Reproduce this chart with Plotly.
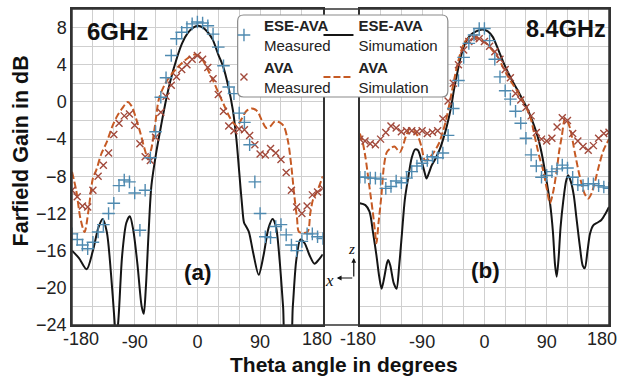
import plotly.graph_objects as go

# ---------------- data ----------------
THETA_MEAS = [-180, -172.5, -165, -157.5, -150, -142.5, -135, -127.5, -120, -112.5,
              -105, -97.5, -90, -82.5, -75, -67.5, -60, -52.5, -45, -37.5,
              -30, -22.5, -15, -7.5, 0, 7.5, 15, 22.5, 30, 37.5,
              45, 52.5, 60, 67.5, 75, 82.5, 90, 97.5, 105, 112.5,
              120, 127.5, 135, 142.5, 150, 157.5, 165, 172.5, 180]

# 6 GHz (a)
ESE_MEAS_6 = [-14.2, -14.8, -15.4, -15.8, -15.1, -14.0, -13.2, -12.0, -10.9, -9.0,
              -8.4, -8.6, -9.8, -13.8, -9.5, -6.0, -3.2, 0.5, 2.6, 5.0,
              6.8, 7.5, 8.0, 8.4, 8.6, 8.5, 8.2, 7.3, 5.9, 3.9,
              1.6, 0.9, -1.2, -2.2, -4.6, -8.6, -12.0, -14.5, -14.6, -13.4,
              -13.2, -14.3, -15.4, -16.0, -15.0, -14.2, -14.2, -14.5, -14.7]
AVA_MEAS_6 = [-9.5, -10.2, -11.2, -11.3, -9.5, -8.0, -6.8, -5.5, -3.5, -2.3,
              -1.5, -1.3, -2.5, -4.5, -5.9, -6.3, -3.8, -1.1, 0.6, 1.8,
              2.7, 3.5, 4.0, 4.6, 5.0, 4.6, 3.7, 2.5, 0.8, -1.0,
              -2.6, -3.1, -2.9, -3.0, -3.6, -4.6, -5.6, -5.7, -5.0, -5.5,
              -6.2, -7.6, -9.5, -11.3, -12.0, -11.2, -10.0, -9.7, -9.3]

ESE_SIM_6_T = [-180, -170, -159, -150, -142, -136, -130, -124, -119, -116.5, -113, -108,
               -102, -97, -92, -86, -80, -77, -74, -70, -66, -59, -52, -45, -38, -30,
               -22, -14, -6, 1, 8, 15, 22, 30, 37, 44, 51, 56, 60, 64, 67, 70, 74, 80,
               88, 95, 102, 108, 113, 118, 123, 127, 133, 137, 142, 148, 154, 161, 168,
               174, 180]
ESE_SIM_6_V = [-16.0, -16.8, -18.0, -16.0, -13.5, -12.6, -14.0, -18.5, -23.5, -26.0, -23.0, -16.5,
               -13.0, -12.3, -13.8, -17.5, -22.0, -22.8, -20.0, -14.0, -9.0, -5.4, -2.5, 0.2, 2.5, 4.6,
               6.3, 7.4, 8.0, 8.2, 8.0, 7.5, 6.7, 5.1, 3.8, 1.8, -0.9, -4.0, -7.5, -11.0, -13.0, -13.4, -14.0, -16.2,
               -18.6, -16.5, -13.6, -12.6, -13.5, -17.0, -22.0, -26.0, -26.0, -22.0, -17.0, -14.8, -15.2, -16.5, -17.4,
               -17.0, -16.4]

AVA_SIM_6_T = [-180, -174, -168, -162, -156, -150, -145, -138, -130, -122, -115, -108, -100,
               -94, -88, -82, -76, -71, -66, -61, -55, -46, -38, -30, -22, -14, -4, 5, 14,
               22, 30, 38, 46, 52, 57, 63, 70, 78, 86, 92, 99, 105, 111, 118, 124, 130,
               135, 139, 143, 146, 158, 162, 166, 172, 180]
AVA_SIM_6_V = [-7.5, -9.5, -12.5, -14.0, -11.5, -8.2, -7.3, -5.6, -4.3, -2.6, -1.5, -0.7, 0.0,
               -0.5, -1.8, -3.3, -5.0, -6.1, -5.0, -2.6, 0.4, 2.0, 2.9, 3.6, 4.2, 4.7, 5.1, 4.8, 3.6,
               2.4, 1.0, -0.3, -1.6, -2.3, -2.6, -1.9, -1.0, -0.7, -1.0, -1.9, -2.8, -2.6, -2.1, -2.2, -2.6, -4.2,
               -7.0, -10.0, -12.5, -14.0, -14.0, -12.0, -10.5, -9.6, -8.0]

# 8.4 GHz (b)
ESE_MEAS_84 = [-8.1, -8.1, -8.2, -8.2, -8.3, -9.3, -9.1, -8.5, -8.7, -8.2,
               -7.5, -6.9, -6.6, -6.3, -5.9, -6.0, -5.5, -3.6, -0.7, 2.3,
               4.8, 6.3, 7.2, 7.9, 7.9, 6.6, 4.6, 2.7, 1.2, 0.3,
               -1.0, -2.3, -3.9, -5.7, -6.9, -8.1, -7.9, -7.5, -7.2, -6.8,
               -7.1, -8.1, -8.9, -9.0, -8.8, -8.8, -9.0, -9.15, -9.3]
AVA_MEAS_84 = [-4.0, -4.2, -4.5, -4.6, -4.0, -3.3, -2.6, -2.8, -3.2, -3.1,
               -3.1, -3.2, -3.1, -3.4, -3.25, -3.1, -1.8, 0.1, 2.0, 4.0,
               5.6, 6.5, 6.9, 6.8, 6.5, 6.0, 5.4, 4.6, 3.5, 2.6,
               0.9, 0.2, -0.6, -1.5, -3.3, -4.0, -4.2, -3.9, -2.7, -1.7,
               -2.0, -3.4, -4.2, -4.8, -5.2, -4.7, -3.9, -3.4, -3.25]

ESE_SIM_84_T = [-180, -172, -166, -161, -156, -152, -148.6, -145, -141, -139, -136, -131, -127,
                -123, -119, -115, -110, -105, -100, -96, -91, -86, -83.6, -80, -76, -70, -64,
                -58, -54, -48, -44, -40, -35, -28, -20, -12, -3, 5, 12, 18, 25, 32, 40, 47,
                54, 61, 67, 72, 78, 84, 90, 95, 99, 102, 104.4, 107, 110, 114, 118, 121, 125,
                129, 133, 138, 142, 145, 149, 152.5, 157, 163, 169, 175, 180]
ESE_SIM_84_V = [-10.9, -11.1, -11.8, -14.0, -16.5, -18.8, -20.1, -19.0, -17.4, -17.0, -17.6, -19.5, -20.1,
                -17.5, -14.0, -10.5, -8.1, -6.0, -5.1, -5.2, -6.3, -7.7, -8.25, -7.6, -6.8, -6.0, -5.0,
                -3.6, -2.5, -0.5, 1.3, 2.8, 4.6, 6.3, 7.2, 7.6, 7.8, 7.6, 7.0, 6.0, 4.7, 3.5, 2.3, 1.4,
                0.4, -0.6, -1.6, -2.6, -4.0, -6.0, -8.6, -11.0, -14.0, -17.5, -18.8, -17.0, -13.5, -10.6, -8.5, -7.9, -8.6,
                -10.0, -12.5, -15.6, -17.6, -17.9, -16.0, -14.2, -13.3, -13.0, -12.7, -12.0, -11.3]

AVA_SIM_84_T = [-180, -176, -172, -166, -161, -158, -156, -153, -149, -145, -141, -136, -130,
                -125, -122, -118, -113, -108, -102, -96, -91, -86, -82, -78, -72, -66, -60,
                -55, -50, -45, -40, -34, -27, -19, -12, -4, 4, 11, 18, 25, 32, 40, 47, 54,
                61, 67, 73, 79, 85, 90, 94.7, 99, 104.4, 108, 111.6, 116.4, 120, 124, 131,
                138, 145, 150, 155, 160, 165, 172, 180]
AVA_SIM_84_V = [-3.4, -4.3, -5.9, -9.2, -12.0, -14.0, -15.2, -13.0, -10.2, -6.8, -5.4, -5.0, -4.8,
                -5.2, -5.4, -4.8, -3.6, -2.9, -3.1, -3.7, -4.8, -6.3, -6.2, -5.9, -5.3, -4.5, -3.2,
                -1.8, 0.0, 1.9, 3.7, 5.4, 6.6, 7.0, 6.9, 6.6, 6.2, 5.6, 5.0, 4.0, 3.0, 2.0, 1.2, 0.3,
                -0.7, -1.8, -3.8, -5.8, -7.4, -9.3, -10.9, -9.8, -7.4, -5.3, -3.8, -1.8, -2.1, -2.9, -5.6,
                -8.1, -9.9, -10.4, -9.8, -8.5, -7.0, -5.2, -4.0]

X_TICKS = [-180, -90, 0, 90, 180]
X_TICK_TEXT = ["", "-90", "0", "90", ""]       # edge labels are placed next to the panel edges
X_EDGE_LABELS = ["-180", "180", "-180", "180"]
Y_TICKS = [-24, -20, -16, -12, -8, -4, 0, 4, 8]

# ---------------- style ----------------
C_ESE_M = "#4f8ab0"
C_AVA_M = "#a24a3c"
C_ESE_S = "#151515"
C_AVA_S = "#c65a24"
FONT = "Arial, Liberation Sans, sans-serif"

fig = go.Figure()

def add_panel(xa, ya, ese_m, ava_m, ese_t, ese_v, ava_t, ava_v, show):
    fig.add_trace(go.Scatter(x=ese_t, y=ese_v, mode="lines", xaxis=xa, yaxis=ya,
                             line=dict(color=C_ESE_S, width=2, shape="spline", smoothing=0.8),
                             name="<b>ESE-AVA</b><br>Simumation", legend="legend2",
                             showlegend=show, legendrank=1))
    fig.add_trace(go.Scatter(x=ava_t, y=ava_v, mode="lines", xaxis=xa, yaxis=ya,
                             line=dict(color=C_AVA_S, width=2, dash="7px,3px", shape="spline", smoothing=0.8),
                             name="<b>AVA</b><br>Simulation", legend="legend2",
                             showlegend=show, legendrank=2))
    fig.add_trace(go.Scatter(x=THETA_MEAS, y=ava_m, mode="markers", xaxis=xa, yaxis=ya,
                             marker=dict(symbol="x-thin", size=7, line=dict(color=C_AVA_M, width=1.4)),
                             name="<b>AVA</b><br>Measured", legend="legend",
                             showlegend=show, legendrank=2))
    fig.add_trace(go.Scatter(x=THETA_MEAS, y=ese_m, mode="markers", xaxis=xa, yaxis=ya,
                             marker=dict(symbol="cross-thin", size=9, line=dict(color=C_ESE_M, width=1.4)),
                             name="<b>ESE-AVA</b><br>Measured", legend="legend",
                             showlegend=show, legendrank=1))

add_panel("x", "y", ESE_MEAS_6, AVA_MEAS_6, ESE_SIM_6_T, ESE_SIM_6_V, AVA_SIM_6_T, AVA_SIM_6_V, True)
add_panel("x2", "y2", ESE_MEAS_84, AVA_MEAS_84, ESE_SIM_84_T, ESE_SIM_84_V, AVA_SIM_84_T, AVA_SIM_84_V, False)

GRID = "#cfcfcf"
LINE = "#333333"
TICKFONT = dict(family=FONT, size=18, color="#222")
xcommon = dict(range=[-180, 180], tickvals=X_TICKS, ticktext=X_TICK_TEXT,
               showgrid=True, gridcolor=GRID, gridwidth=1,
               minor=dict(dtick=30, tick0=0, showgrid=True, gridcolor=GRID, gridwidth=1),
               showline=True, linecolor=LINE, linewidth=1.5, mirror=True, automargin=False,
               ticks="", ticklen=0, zeroline=False, tickfont=TICKFONT)
ycommon = dict(range=[-24, 10], tickvals=Y_TICKS,
               showgrid=True, gridcolor=GRID, gridwidth=1,
               minor=dict(dtick=2, tick0=0, showgrid=True, gridcolor=GRID, gridwidth=1),
               showline=True, linecolor=LINE, linewidth=1.5, mirror=True, automargin=False,
               ticks="", zeroline=False, tickfont=TICKFONT)

fig.update_layout(
    width=626, height=376,
    margin=dict(l=72, r=17, t=9, b=51),
    paper_bgcolor="white", plot_bgcolor="white",
    xaxis=dict(domain=[0, 0.467], anchor="y", **xcommon),
    xaxis2=dict(domain=[0.536, 1], anchor="y2", **xcommon),
    yaxis=dict(anchor="x", **ycommon),
    yaxis2=dict(anchor="x2", matches="y", showticklabels=False, **ycommon),
    legend=dict(x=0.283, y=1.0, xanchor="left", yanchor="top", bgcolor="rgba(0,0,0,0)",
                font=dict(family=FONT, size=15, color="#222"), tracegroupgap=0,
                itemwidth=30, traceorder="normal"),
    legend2=dict(x=0.459, y=1.0, xanchor="left", yanchor="top", bgcolor="rgba(0,0,0,0)",
                 font=dict(family=FONT, size=15, color="#222"), tracegroupgap=0,
                 itemwidth=30, traceorder="normal"),
    showlegend=True,
)

# outer frame and legend box
W, H = 536.5, 316.0
def px(xp):
    return (xp - 72.5) / W
def py(yp):
    return (325.0 - yp) / H

fig.add_shape(type="rect", xref="paper", yref="paper", x0=0, y0=0, x1=1, y1=1,
              line=dict(color=LINE, width=1.5), layer="above")
x0, x1, y0, y1 = 238, 448, 15, 97
r = 6
rx, ry = r / W, r / H
X0, X1, Y0, Y1 = px(x0), px(x1), py(y1), py(y0)
path = (f"M {X0+rx},{Y1} L {X1-rx},{Y1} Q {X1},{Y1} {X1},{Y1-ry} "
        f"L {X1},{Y0+ry} Q {X1},{Y0} {X1-rx},{Y0} L {X0+rx},{Y0} Q {X0},{Y0} {X0},{Y0+ry} "
        f"L {X0},{Y1-ry} Q {X0},{Y1} {X0+rx},{Y1} Z")
fig.add_shape(type="path", xref="paper", yref="paper", path=path,
              fillcolor="white", line=dict(color="#8a8a8a", width=1.2), layer="above")

ann = []
def txt(x, y, t, size, bold=True, family=FONT, color="#111", **kw):
    ann.append(dict(x=x, y=y, xref="paper", yref="paper", text=(f"<b>{t}</b>" if bold else t),
                    xanchor="center", yanchor="middle",
                    showarrow=False, font=dict(family=family, size=size, color=color), **kw))

txt(px(118), py(31), "6GHz", 24)
txt(px(566), py(29), "8.4GHz", 23.5)
txt(px(198), py(272), "(a)", 22.5)
txt(px(486), py(270), "(b)", 22.5)
txt(px(344), py(364), "Theta angle in degrees", 21)
txt(px(22), py(151), "Farfield Gain in dB", 21.5, textangle=-90)
txt(px(352), py(249), "<i>z</i>", 15, bold=False, family="Liberation Serif, DejaVu Serif, serif")
txt(px(330), py(280), "<i>x</i>", 17, bold=False, family="Liberation Serif, DejaVu Serif, serif")
# x tick labels at the panel edges (nudged inward like the reference)
for xpos, lab in zip([81, 317, 358, 602], X_EDGE_LABELS):
    txt(px(xpos), py(339), lab, 18, bold=False, color="#222")
# axis indicator arrows
ann.append(dict(x=px(354), y=py(258), xref="paper", yref="paper", text="", showarrow=True,
                ax=0, ay=20, arrowhead=2, arrowsize=0.8, arrowwidth=1.2, arrowcolor="#111"))
ann.append(dict(x=px(337), y=py(278), xref="paper", yref="paper", text="", showarrow=True,
                ax=17, ay=0, arrowhead=2, arrowsize=0.8, arrowwidth=1.2, arrowcolor="#111"))
fig.update_layout(annotations=ann)

fig.write_html("out.html", config={"displayModeBar": False},
               post_script="document.body.style.margin='0';document.body.style.padding='0';")
